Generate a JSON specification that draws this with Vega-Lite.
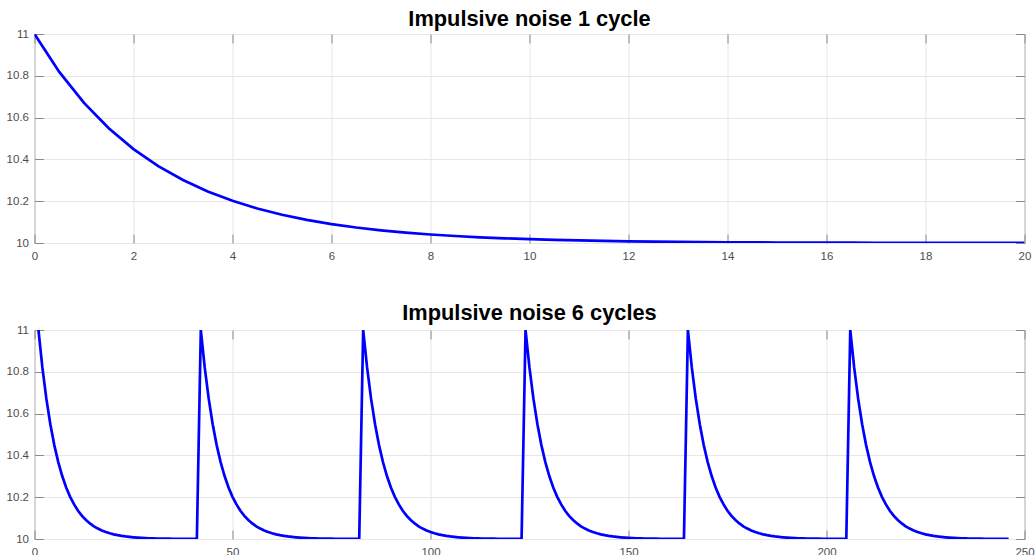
{
"$schema": "https://vega.github.io/schema/vega-lite/v6.json",
"padding": {"left": 5.5, "top": 8, "right": 0, "bottom": 0},
"spacing": 40,
"config": {
  "font": "Liberation Sans",
  "view": {"stroke": "#8a8a8a", "strokeWidth": 1},
  "axis": {"domain": false, "grid": true, "gridColor": "#e6e6e6", "tickColor": "#8a8a8a", "tickSize": -9, "labelColor": "#4d4d4d", "labelFontSize": 11.5, "title": null, "minExtent": 0, "labelFlush": false, "labelOverlap": false},
  "axisX": {"labelPadding": 16},
  "axisY": {"labelPadding": 15},
  "title": {"fontSize": 21.8, "fontWeight": "bold", "color": "#000000", "anchor": "middle"}
},
"datasets": {
"one": [
{"x":0,"y":11},{"x":0.5,"y":10.8187},{"x":1,"y":10.6703},{"x":1.5,"y":10.5488},{"x":2,"y":10.4493},{"x":2.5,"y":10.3679},{"x":3,"y":10.3012},{"x":3.5,"y":10.2466},{"x":4,"y":10.2019},{"x":4.5,"y":10.1653},{"x":5,"y":10.1353},{"x":5.5,"y":10.1108},{"x":6,"y":10.0907},{"x":6.5,"y":10.0743},{"x":7,"y":10.0608},{"x":7.5,"y":10.0498},{"x":8,"y":10.0408},{"x":8.5,"y":10.0334},{"x":9,"y":10.0273},{"x":9.5,"y":10.0224},{"x":10,"y":10.0183},{"x":10.5,"y":10.015},{"x":11,"y":10.0123},{"x":11.5,"y":10.0101},{"x":12,"y":10.0082},{"x":12.5,"y":10.0067},{"x":13,"y":10.0055},{"x":13.5,"y":10.0045},{"x":14,"y":10.0037},{"x":14.5,"y":10.003},{"x":15,"y":10.0025},{"x":15.5,"y":10.002},{"x":16,"y":10.0017},{"x":16.5,"y":10.0014},{"x":17,"y":10.0011},{"x":17.5,"y":10.0009},{"x":18,"y":10.0007},{"x":18.5,"y":10.0006},{"x":19,"y":10.0005},{"x":19.5,"y":10.0004},{"x":20,"y":10.0003}
],
"six": [
{"x":1,"y":11},{"x":2,"y":10.8187},{"x":3,"y":10.6703},{"x":4,"y":10.5488},{"x":5,"y":10.4493},{"x":6,"y":10.3679},{"x":7,"y":10.3012},{"x":8,"y":10.2466},{"x":9,"y":10.2019},{"x":10,"y":10.1653},{"x":11,"y":10.1353},{"x":12,"y":10.1108},{"x":13,"y":10.0907},{"x":14,"y":10.0743},{"x":15,"y":10.0608},{"x":16,"y":10.0498},{"x":17,"y":10.0408},{"x":18,"y":10.0334},{"x":19,"y":10.0273},{"x":20,"y":10.0224},{"x":21,"y":10.0183},{"x":22,"y":10.015},{"x":23,"y":10.0123},{"x":24,"y":10.0101},{"x":25,"y":10.0082},{"x":26,"y":10.0067},{"x":27,"y":10.0055},{"x":28,"y":10.0045},{"x":29,"y":10.0037},{"x":30,"y":10.003},{"x":31,"y":10.0025},{"x":32,"y":10.002},{"x":33,"y":10.0017},{"x":34,"y":10.0014},{"x":35,"y":10.0011},{"x":36,"y":10.0009},{"x":37,"y":10.0007},{"x":38,"y":10.0006},{"x":39,"y":10.0005},{"x":40,"y":10.0004},{"x":41,"y":10.0003},
{"x":42,"y":11},{"x":43,"y":10.8187},{"x":44,"y":10.6703},{"x":45,"y":10.5488},{"x":46,"y":10.4493},{"x":47,"y":10.3679},{"x":48,"y":10.3012},{"x":49,"y":10.2466},{"x":50,"y":10.2019},{"x":51,"y":10.1653},{"x":52,"y":10.1353},{"x":53,"y":10.1108},{"x":54,"y":10.0907},{"x":55,"y":10.0743},{"x":56,"y":10.0608},{"x":57,"y":10.0498},{"x":58,"y":10.0408},{"x":59,"y":10.0334},{"x":60,"y":10.0273},{"x":61,"y":10.0224},{"x":62,"y":10.0183},{"x":63,"y":10.015},{"x":64,"y":10.0123},{"x":65,"y":10.0101},{"x":66,"y":10.0082},{"x":67,"y":10.0067},{"x":68,"y":10.0055},{"x":69,"y":10.0045},{"x":70,"y":10.0037},{"x":71,"y":10.003},{"x":72,"y":10.0025},{"x":73,"y":10.002},{"x":74,"y":10.0017},{"x":75,"y":10.0014},{"x":76,"y":10.0011},{"x":77,"y":10.0009},{"x":78,"y":10.0007},{"x":79,"y":10.0006},{"x":80,"y":10.0005},{"x":81,"y":10.0004},{"x":82,"y":10.0003},
{"x":83,"y":11},{"x":84,"y":10.8187},{"x":85,"y":10.6703},{"x":86,"y":10.5488},{"x":87,"y":10.4493},{"x":88,"y":10.3679},{"x":89,"y":10.3012},{"x":90,"y":10.2466},{"x":91,"y":10.2019},{"x":92,"y":10.1653},{"x":93,"y":10.1353},{"x":94,"y":10.1108},{"x":95,"y":10.0907},{"x":96,"y":10.0743},{"x":97,"y":10.0608},{"x":98,"y":10.0498},{"x":99,"y":10.0408},{"x":100,"y":10.0334},{"x":101,"y":10.0273},{"x":102,"y":10.0224},{"x":103,"y":10.0183},{"x":104,"y":10.015},{"x":105,"y":10.0123},{"x":106,"y":10.0101},{"x":107,"y":10.0082},{"x":108,"y":10.0067},{"x":109,"y":10.0055},{"x":110,"y":10.0045},{"x":111,"y":10.0037},{"x":112,"y":10.003},{"x":113,"y":10.0025},{"x":114,"y":10.002},{"x":115,"y":10.0017},{"x":116,"y":10.0014},{"x":117,"y":10.0011},{"x":118,"y":10.0009},{"x":119,"y":10.0007},{"x":120,"y":10.0006},{"x":121,"y":10.0005},{"x":122,"y":10.0004},{"x":123,"y":10.0003},
{"x":124,"y":11},{"x":125,"y":10.8187},{"x":126,"y":10.6703},{"x":127,"y":10.5488},{"x":128,"y":10.4493},{"x":129,"y":10.3679},{"x":130,"y":10.3012},{"x":131,"y":10.2466},{"x":132,"y":10.2019},{"x":133,"y":10.1653},{"x":134,"y":10.1353},{"x":135,"y":10.1108},{"x":136,"y":10.0907},{"x":137,"y":10.0743},{"x":138,"y":10.0608},{"x":139,"y":10.0498},{"x":140,"y":10.0408},{"x":141,"y":10.0334},{"x":142,"y":10.0273},{"x":143,"y":10.0224},{"x":144,"y":10.0183},{"x":145,"y":10.015},{"x":146,"y":10.0123},{"x":147,"y":10.0101},{"x":148,"y":10.0082},{"x":149,"y":10.0067},{"x":150,"y":10.0055},{"x":151,"y":10.0045},{"x":152,"y":10.0037},{"x":153,"y":10.003},{"x":154,"y":10.0025},{"x":155,"y":10.002},{"x":156,"y":10.0017},{"x":157,"y":10.0014},{"x":158,"y":10.0011},{"x":159,"y":10.0009},{"x":160,"y":10.0007},{"x":161,"y":10.0006},{"x":162,"y":10.0005},{"x":163,"y":10.0004},{"x":164,"y":10.0003},
{"x":165,"y":11},{"x":166,"y":10.8187},{"x":167,"y":10.6703},{"x":168,"y":10.5488},{"x":169,"y":10.4493},{"x":170,"y":10.3679},{"x":171,"y":10.3012},{"x":172,"y":10.2466},{"x":173,"y":10.2019},{"x":174,"y":10.1653},{"x":175,"y":10.1353},{"x":176,"y":10.1108},{"x":177,"y":10.0907},{"x":178,"y":10.0743},{"x":179,"y":10.0608},{"x":180,"y":10.0498},{"x":181,"y":10.0408},{"x":182,"y":10.0334},{"x":183,"y":10.0273},{"x":184,"y":10.0224},{"x":185,"y":10.0183},{"x":186,"y":10.015},{"x":187,"y":10.0123},{"x":188,"y":10.0101},{"x":189,"y":10.0082},{"x":190,"y":10.0067},{"x":191,"y":10.0055},{"x":192,"y":10.0045},{"x":193,"y":10.0037},{"x":194,"y":10.003},{"x":195,"y":10.0025},{"x":196,"y":10.002},{"x":197,"y":10.0017},{"x":198,"y":10.0014},{"x":199,"y":10.0011},{"x":200,"y":10.0009},{"x":201,"y":10.0007},{"x":202,"y":10.0006},{"x":203,"y":10.0005},{"x":204,"y":10.0004},{"x":205,"y":10.0003},
{"x":206,"y":11},{"x":207,"y":10.8187},{"x":208,"y":10.6703},{"x":209,"y":10.5488},{"x":210,"y":10.4493},{"x":211,"y":10.3679},{"x":212,"y":10.3012},{"x":213,"y":10.2466},{"x":214,"y":10.2019},{"x":215,"y":10.1653},{"x":216,"y":10.1353},{"x":217,"y":10.1108},{"x":218,"y":10.0907},{"x":219,"y":10.0743},{"x":220,"y":10.0608},{"x":221,"y":10.0498},{"x":222,"y":10.0408},{"x":223,"y":10.0334},{"x":224,"y":10.0273},{"x":225,"y":10.0224},{"x":226,"y":10.0183},{"x":227,"y":10.015},{"x":228,"y":10.0123},{"x":229,"y":10.0101},{"x":230,"y":10.0082},{"x":231,"y":10.0067},{"x":232,"y":10.0055},{"x":233,"y":10.0045},{"x":234,"y":10.0037},{"x":235,"y":10.003},{"x":236,"y":10.0025},{"x":237,"y":10.002},{"x":238,"y":10.0017},{"x":239,"y":10.0014},{"x":240,"y":10.0011},{"x":241,"y":10.0009},{"x":242,"y":10.0007},{"x":243,"y":10.0006},{"x":244,"y":10.0005},{"x":245,"y":10.0004},{"x":246,"y":10.0003}
]
},
"vconcat": [
{
  "title": {"text": "Impulsive noise 1 cycle", "offset": -3},
  "width": 990, "height": 209,
  "data": {"name": "one"},
  "layer": [
    {"mark": {"type": "line", "color": "#0000ff", "strokeWidth": 2.7, "clip": true},
     "encoding": {
       "x": {"field": "x", "type": "quantitative", "scale": {"domain": [0, 20], "nice": false}, "axis": {"values": [0,2,4,6,8,10,12,14,16,18,20], "orient": "bottom"}},
       "y": {"field": "y", "type": "quantitative", "scale": {"domain": [10, 11], "nice": false, "zero": false}, "axis": {"values": [10,10.2,10.4,10.6,10.8,11], "format": "~g", "orient": "left"}}
     }},
    {"mark": {"type": "line", "opacity": 0},
     "encoding": {
       "x": {"field": "x", "type": "quantitative", "axis": {"values": [0,2,4,6,8,10,12,14,16,18,20], "orient": "top", "labels": false, "grid": false, "labelPadding": 0, "maxExtent": 0}},
       "y": {"field": "y", "type": "quantitative", "axis": {"values": [10,10.2,10.4,10.6,10.8,11], "orient": "right", "labels": false, "grid": false, "labelPadding": 0, "maxExtent": 0}}
     }}
  ],
  "resolve": {"axis": {"x": "independent", "y": "independent"}}
},
{
  "title": {"text": "Impulsive noise 6 cycles", "offset": -0.5},
  "width": 990, "height": 209,
  "data": {"name": "six"},
  "layer": [
    {"mark": {"type": "line", "color": "#0000ff", "strokeWidth": 2.7, "clip": true},
     "encoding": {
       "x": {"field": "x", "type": "quantitative", "scale": {"domain": [0, 250], "nice": false}, "axis": {"values": [0,50,100,150,200,250], "orient": "bottom"}},
       "y": {"field": "y", "type": "quantitative", "scale": {"domain": [10, 11], "nice": false, "zero": false}, "axis": {"values": [10,10.2,10.4,10.6,10.8,11], "format": "~g", "orient": "left"}}
     }},
    {"mark": {"type": "line", "opacity": 0},
     "encoding": {
       "x": {"field": "x", "type": "quantitative", "axis": {"values": [0,50,100,150,200,250], "orient": "top", "labels": false, "grid": false, "labelPadding": 0, "maxExtent": 0}},
       "y": {"field": "y", "type": "quantitative", "axis": {"values": [10,10.2,10.4,10.6,10.8,11], "orient": "right", "labels": false, "grid": false, "labelPadding": 0, "maxExtent": 0}}
     }}
  ],
  "resolve": {"axis": {"x": "independent", "y": "independent"}}
}
]
}
